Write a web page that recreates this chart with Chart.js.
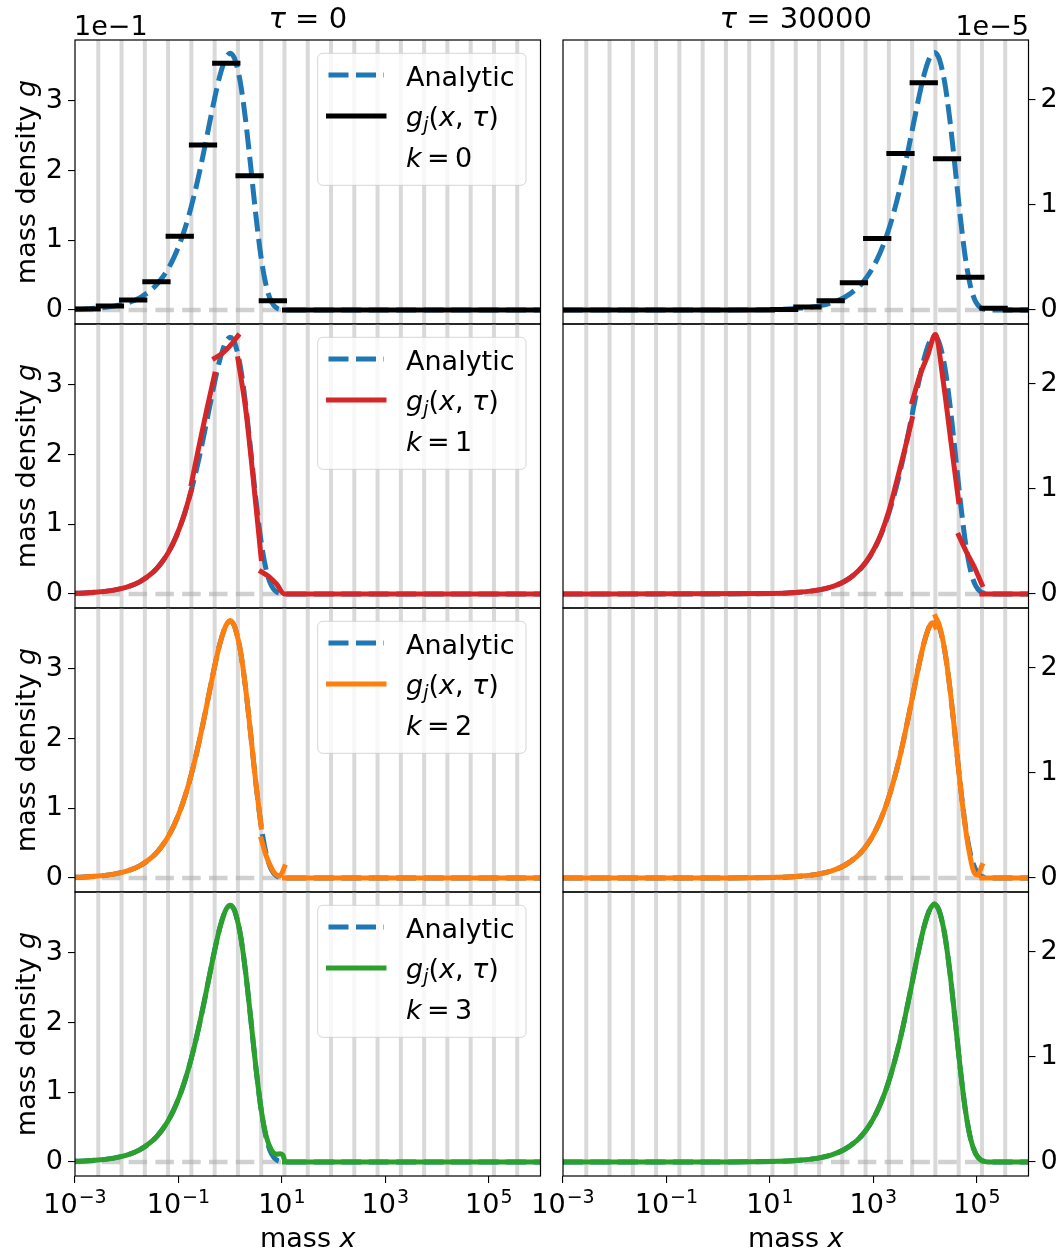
<!DOCTYPE html>
<html>
<head>
<meta charset="utf-8">
<script src="https://cdn.jsdelivr.net/npm/chart.js@4.4.1/dist/chart.umd.min.js"></script>
<style>
  body { margin: 0; background: #fff; width: 1059px; height: 1251px; overflow: hidden; position: relative; font-family: 'DejaVu Sans', sans-serif; }
  canvas { position: absolute; }
  .t { position: absolute; white-space: nowrap; color: #000; line-height: 1; z-index: 5; }
  .t sub { font-size: 0.7em; vertical-align: baseline; position: relative; top: 0.28em; line-height: 0; }
</style>
</head>
<body>
<script>
// mass grid: bin edges as log10(x)
const binEdgesLog = [-3, -2.55, -2.1, -1.65, -1.2, -0.75, -0.3, 0.15, 0.6, 1.05, 1.5, 1.95, 2.4, 2.85, 3.3, 3.75, 4.2, 4.65, 5.1, 5.55, 6];

const massTicks = [1e-3, 1e-1, 1e1, 1e3, 1e5];
const massTickExp = ['\u22123', '\u22121', '1', '3', '5'];   // shown as 10^exp
const leftTicks = [0, 1, 2, 3];   // x 1e-1
const rightTicks = [0, 1, 2];     // x 1e-5

// ---- tau = 0, g in units of 1e-1 ----
const anaLeftLog = [-3, -2.75, -2.5, -2.25, -2, -1.75, -1.5, -1.4, -1.3, -1.2, -1.1, -1, -0.9, -0.8, -0.7, -0.6, -0.5, -0.4, -0.3, -0.2, -0.1, -0.05, 0, 0.05, 0.1, 0.2, 0.3, 0.4, 0.5, 0.6, 0.7, 0.8, 0.9, 1, 1.1, 1.2, 6];
const anaLeftG = [0.010, 0.018, 0.032, 0.056, 0.099, 0.175, 0.306, 0.383, 0.477, 0.592, 0.734, 0.905, 1.110, 1.353, 1.634, 1.954, 2.305, 2.674, 3.036, 3.357, 3.589, 3.655, 3.679, 3.653, 3.574, 3.249, 2.713, 2.038, 1.339, 0.743, 0.334, 0.115, 0.028, 0.005, 0.000, 0.000, 0.000];

const k0Left = [0.015, 0.057, 0.143, 0.405, 1.057, 2.367, 3.538, 1.924, 0.132, 0, 0, 0, 0, 0, 0, 0, 0, 0, 0, 0];

const k1LeftLog = [-3, -2.75, -2.5, -2.25, -2, -1.75, -1.5, -1.35, -1.2, -1.05, -0.9, -0.75, -0.75, -0.75, -0.6, -0.45, -0.3, -0.3, -0.3, -0.15, 0, 0.15, 0.15, 0.15, 0.3, 0.45, 0.6, 0.6, 0.6, 0.75, 0.9, 1.05, 6];
const k1LeftG = [0.010, 0.018, 0.032, 0.056, 0.099, 0.175, 0.306, 0.427, 0.59, 0.815, 1.11, 1.49, null, 1.58, 2.13, 2.65, 3.15, null, 3.38, 3.45, 3.56, 3.70, null, 3.37, 2.65, 1.62, 0.51, null, 0.32, 0.25, 0.14, 0, 0];

const k2LeftLog = [-3, -2.75, -2.5, -2.25, -2, -1.75, -1.5, -1.4, -1.3, -1.2, -1.1, -1, -0.9, -0.8, -0.7, -0.6, -0.5, -0.4, -0.3, -0.2, -0.1, -0.05, 0, 0.05, 0.1, 0.2, 0.3, 0.4, 0.5, 0.6, 0.6, 0.6, 0.7, 0.8, 0.87, 0.95, 1, 1.05, 1.05, 1.05, 6];
const k2LeftG = [0.010, 0.018, 0.032, 0.056, 0.099, 0.175, 0.306, 0.383, 0.477, 0.592, 0.734, 0.905, 1.110, 1.353, 1.634, 1.954, 2.305, 2.674, 3.036, 3.357, 3.589, 3.66, 3.69, 3.66, 3.574, 3.249, 2.713, 2.038, 1.339, 0.73, null, 0.56, 0.31, 0.14, 0.06, 0.03, 0.07, 0.16, null, 0, 0];

const k3LeftLog = [-3, -2.75, -2.5, -2.25, -2, -1.75, -1.5, -1.4, -1.3, -1.2, -1.1, -1, -0.9, -0.8, -0.7, -0.6, -0.5, -0.4, -0.3, -0.2, -0.1, -0.05, 0, 0.05, 0.1, 0.2, 0.3, 0.4, 0.5, 0.6, 0.7, 0.8, 0.9, 0.97, 1.02, 1.05, 1.05, 1.05, 6];
const k3LeftG = [0.010, 0.018, 0.032, 0.056, 0.099, 0.175, 0.306, 0.383, 0.477, 0.592, 0.734, 0.905, 1.110, 1.353, 1.634, 1.954, 2.305, 2.674, 3.036, 3.357, 3.589, 3.655, 3.68, 3.653, 3.574, 3.249, 2.713, 2.038, 1.339, 0.75, 0.36, 0.17, 0.11, 0.12, 0.10, 0.03, null, 0, 0];

// ---- tau = 30000, g in units of 1e-5 ----
const anaRightLog = [-3, 0, 1.18, 1.43, 1.68, 1.93, 2.18, 2.43, 2.68, 2.78, 2.88, 2.98, 3.08, 3.18, 3.28, 3.38, 3.48, 3.58, 3.68, 3.78, 3.88, 3.98, 4.08, 4.13, 4.18, 4.23, 4.28, 4.38, 4.48, 4.58, 4.68, 4.78, 4.88, 4.98, 5.08, 5.18, 5.28, 6];
const anaRightG = [0, 0.0004, 0.007, 0.012, 0.021, 0.037, 0.066, 0.117, 0.204, 0.255, 0.318, 0.395, 0.489, 0.603, 0.740, 0.902, 1.089, 1.303, 1.537, 1.783, 2.024, 2.238, 2.392, 2.436, 2.452, 2.435, 2.382, 2.166, 1.809, 1.359, 0.893, 0.495, 0.222, 0.077, 0.019, 0.003, 0.000, 0.000];

const k0Right = [0, 0, 0, 0, 0, 0, 0, 0, 0, 0.006, 0.03, 0.089, 0.26, 0.68, 1.49, 2.165, 1.44, 0.313, 0.016, 0];

const k1RightLog = [-3, 1, 1.5, 2, 2.25, 2.4, 2.55, 2.7, 2.85, 3, 3.15, 3.3, 3.45, 3.6, 3.75, 3.75, 3.75, 3.9, 4.05, 4.2, 4.35, 4.5, 4.65, 4.65, 4.65, 4.8, 4.95, 5.1, 5.1, 5.1, 6];
const k1RightG = [0, 0.005, 0.014, 0.044, 0.078, 0.11, 0.154, 0.216, 0.30, 0.417, 0.573, 0.79, 1.07, 1.36, 1.67, null, 1.83, 2.08, 2.27, 2.47, 2.03, 1.45, 0.88, null, 0.56, 0.40, 0.26, 0.09, null, 0, 0];

const k2RightLog = [-3, 0, 1.18, 1.43, 1.68, 1.93, 2.18, 2.43, 2.68, 2.78, 2.88, 2.98, 3.08, 3.18, 3.28, 3.38, 3.48, 3.58, 3.68, 3.78, 3.88, 3.98, 4.08, 4.15, 4.2, 4.2, 4.2, 4.28, 4.38, 4.48, 4.58, 4.68, 4.78, 4.88, 4.95, 5.02, 5.1, 5.1, 5.1, 6];
const k2RightG = [0, 0.0004, 0.007, 0.012, 0.021, 0.037, 0.066, 0.117, 0.204, 0.255, 0.318, 0.395, 0.489, 0.603, 0.740, 0.902, 1.089, 1.303, 1.537, 1.783, 2.024, 2.238, 2.392, 2.43, 2.39, null, 2.49, 2.40, 2.17, 1.81, 1.36, 0.89, 0.48, 0.18, 0.05, 0.03, 0.12, null, 0, 0];

const k3RightLog = [-3, 0, 1.18, 1.43, 1.68, 1.93, 2.18, 2.43, 2.68, 2.78, 2.88, 2.98, 3.08, 3.18, 3.28, 3.38, 3.48, 3.58, 3.68, 3.78, 3.88, 3.98, 4.08, 4.13, 4.18, 4.23, 4.28, 4.38, 4.48, 4.58, 4.68, 4.78, 4.88, 4.98, 5.08, 5.18, 5.28, 6];
const k3RightG = [0, 0.0004, 0.007, 0.012, 0.021, 0.037, 0.066, 0.117, 0.204, 0.255, 0.318, 0.395, 0.489, 0.603, 0.740, 0.902, 1.089, 1.303, 1.537, 1.783, 2.024, 2.238, 2.392, 2.436, 2.46, 2.435, 2.382, 2.166, 1.809, 1.359, 0.893, 0.495, 0.222, 0.077, 0.02, 0.003, 0.000, 0.000];

const lineColors = ['#000000', '#d62728', '#ff7f0e', '#2ca02c'];

Chart.defaults.font.family = "'DejaVu Sans', sans-serif";

function pts(logs, vals) {
  return logs.map((L, i) => ({ x: Math.pow(10, L), y: vals[i] }));
}
// piecewise constant k = 0 solution, one segment per bin
function steps(vals) {
  const out = [];
  vals.forEach((v, i) => {
    const a = Math.pow(10, binEdgesLog[i]), b = Math.pow(10, binEdgesLog[i + 1]);
    out.push({ x: a, y: v }, { x: b, y: v }, { x: b, y: null });
  });
  return out;
}

const numLeft = [steps(k0Left), pts(k1LeftLog, k1LeftG), pts(k2LeftLog, k2LeftG), pts(k3LeftLog, k3LeftG)];
const numRight = [steps(k0Right), pts(k1RightLog, k1RightG), pts(k2RightLog, k2RightG), pts(k3RightLog, k3RightG)];

//----- plugins -----
const binLines = {
  id: 'binLines',
  beforeDatasetsDraw(chart) {
    const { ctx, chartArea: a, scales: { x } } = chart;
    ctx.save();
    ctx.beginPath(); ctx.rect(a.left, a.top, a.width, a.height); ctx.clip();
    ctx.strokeStyle = '#d9d9d9'; ctx.lineWidth = 4;
    binEdgesLog.slice(1, -1).forEach(L => {
      const px = x.getPixelForValue(Math.pow(10, L));
      ctx.beginPath(); ctx.moveTo(px, a.top); ctx.lineTo(px, a.bottom); ctx.stroke();
    });
    ctx.restore();
  }
};

const frame = {
  id: 'frame',
  afterDraw(chart) {
    const { ctx, chartArea: a } = chart;
    ctx.save();
    ctx.strokeStyle = '#000'; ctx.lineWidth = 1.2;
    ctx.strokeRect(a.left, a.top, a.width, a.height);
    ctx.restore();
  }
};

// 10^n labels under the bottom row, with a real superscript
const powerLabels = {
  id: 'powerLabels',
  afterDraw(chart, args, opts) {
    if (!opts || !opts.show) return;
    const { ctx, chartArea: a, scales: { x } } = chart;
    ctx.save();
    ctx.fillStyle = '#000'; ctx.textBaseline = 'alphabetic'; ctx.textAlign = 'left';
    massTicks.forEach((v, i) => {
      ctx.font = "27px 'DejaVu Sans'";
      const w1 = ctx.measureText('10').width;
      ctx.font = "19px 'DejaVu Sans'";
      const w2 = ctx.measureText(massTickExp[i]).width;
      const x0 = x.getPixelForValue(v) - (w1 + w2 + 1) / 2;
      ctx.font = "27px 'DejaVu Sans'";
      ctx.fillText('10', x0, a.bottom + 37);
      ctx.font = "19px 'DejaVu Sans'";
      ctx.fillText(massTickExp[i], x0 + w1 + 1, a.bottom + 27);
    });
    ctx.restore();
  }
};

const legendBox = {
  id: 'legendBox',
  afterDatasetsDraw(chart, args, opts) {
    if (!opts || !opts.color) return;
    const { ctx, chartArea: a } = chart;
    const x0 = a.left + 242.7, y0 = a.top + 13.3, w = 208.3, h = 132, r = 5;
    ctx.save();
    ctx.beginPath();
    ctx.moveTo(x0 + r, y0);
    ctx.arcTo(x0 + w, y0, x0 + w, y0 + h, r);
    ctx.arcTo(x0 + w, y0 + h, x0, y0 + h, r);
    ctx.arcTo(x0, y0 + h, x0, y0, r);
    ctx.arcTo(x0, y0, x0 + w, y0, r);
    ctx.closePath();
    ctx.fillStyle = 'rgba(255,255,255,0.8)'; ctx.fill();
    ctx.strokeStyle = 'rgba(204,204,204,0.8)'; ctx.lineWidth = 1; ctx.stroke();

    const hx0 = a.left + 253.5, hx1 = a.left + 309;
    ctx.lineWidth = 5;
    ctx.strokeStyle = '#1f77b4'; ctx.setLineDash([20, 7.5]); ctx.lineCap = 'butt';
    ctx.beginPath(); ctx.moveTo(hx0, y0 + 21.7); ctx.lineTo(hx1, y0 + 21.7); ctx.stroke();
    ctx.setLineDash([]); ctx.lineCap = 'square'; ctx.strokeStyle = opts.color;
    ctx.beginPath(); ctx.moveTo(hx0, y0 + 62.7); ctx.lineTo(hx1, y0 + 62.7); ctx.stroke();
    ctx.restore();
  }
};

//----- panels -----
function rowTop(r) { return 40 + 284 * r; }

function makePanel(row, isLeft) {
  const bottom = row === 3;
  const cv = document.createElement('canvas');
  const w = isLeft ? 545 : 539;
  const h = 30 + 284 + (bottom ? 52 : 30);
  cv.width = w; cv.height = h;
  cv.style.left = (isLeft ? 0 : 520) + 'px';
  cv.style.top = (rowTop(row) - 30) + 'px';
  document.body.appendChild(cv);

  const color = lineColors[row];
  const numeric = isLeft ? numLeft[row] : numRight[row];
  const analytic = isLeft ? pts(anaLeftLog, anaLeftG) : pts(anaRightLog, anaRightG);

  new Chart(cv.getContext('2d'), {
    type: 'line',
    data: {
      datasets: [
        { // g_j(x, tau), drawn on top
          data: numeric, borderColor: color, borderWidth: 5, clip: 0,
          borderCapStyle: 'square', borderJoinStyle: 'round',
          cubicInterpolationMode: row === 0 ? 'default' : 'monotone', tension: 0
        },
        { // analytic
          data: analytic, borderColor: '#1f77b4', borderWidth: 5, clip: 0,
          borderDash: [20, 7.5], borderCapStyle: 'butt', cubicInterpolationMode: 'monotone'
        },
        { // zero reference
          data: [{ x: 1e-3, y: 0 }, { x: 1e6, y: 0 }], borderColor: 'rgba(170,170,170,0.55)',
          borderWidth: 4.5, borderDash: [18.5, 8.3], borderCapStyle: 'butt', clip: 0
        }
      ]
    },
    options: {
      responsive: false, animation: false, devicePixelRatio: 1,
      layout: { padding: { top: 30, bottom: bottom ? 0 : 30, left: isLeft ? 0 : 43, right: isLeft ? 4.5 : 0 } },
      elements: { point: { radius: 0 } },
      plugins: {
        legend: { display: false }, tooltip: { enabled: false },
        legendBox: isLeft ? { color: color } : {},
        powerLabels: { show: bottom }
      },
      scales: {
        x: {
          type: 'logarithmic', min: 1e-3, max: 1e6, bounds: 'data',
          display: bottom,
          afterFit: s => { s.height = bottom ? 52 : 0; },
          afterBuildTicks: s => { s.ticks = massTicks.map(v => ({ value: v })); },
          grid: { drawOnChartArea: false, drawTicks: true, tickLength: 7, color: '#000', lineWidth: 1.1 },
          border: { display: false },
          ticks: { autoSkip: false, maxRotation: 0, callback: () => '' }
        },
        y: {
          position: isLeft ? 'left' : 'right',
          min: isLeft ? -0.2 : -0.133, max: isLeft ? 3.87 : 2.571, bounds: 'data',
          afterFit: s => { s.width = isLeft ? 75 : 30.5; },
          afterBuildTicks: s => { s.ticks = (isLeft ? leftTicks : rightTicks).map(v => ({ value: v })); },
          grid: { drawOnChartArea: false, drawTicks: true, tickLength: 7, color: '#000', lineWidth: 1.1 },
          border: { display: false },
          ticks: { color: '#000', font: { size: 27 }, padding: 5, callback: v => String(v) }
        }
      }
    },
    plugins: [binLines, legendBox, frame, powerLabels]
  });
}

for (let r = 0; r < 4; r++) { makePanel(r, true); makePanel(r, false); }

//----- text -----
function addText(html, left, top, size, align, rotate) {
  const d = document.createElement('div');
  d.className = 't';
  d.innerHTML = html;
  d.style.left = left + 'px'; d.style.top = top + 'px'; d.style.fontSize = size + 'px';
  if (rotate) d.style.transform = 'translate(-50%,-50%) rotate(-90deg)';
  else if (align === 'center') d.style.transform = 'translateX(-50%)';
  else if (align === 'right') d.style.transform = 'translateX(-100%)';
  document.body.appendChild(d);
}

addText('<i>\u03C4</i> = 0', 307.75, 3.8, 29, 'center');
addText('<i>\u03C4</i> = 30000', 795.75, 3.8, 29, 'center');
addText('1e\u22121', 74, 11.5, 27, 'left');
addText('1e\u22125', 1029, 11.5, 27, 'right');

for (let r = 0; r < 4; r++) {
  const T = rowTop(r);
  addText('mass density <i>g</i>', 24.7, T + 142, 27, 'center', true);
  addText('Analytic', 406, T + 22.5, 27, 'left');
  addText('<i>g</i><sub><i>j</i></sub>(<i>x</i>, <i>\u03C4</i>)', 406, T + 63.2, 27, 'left');
  addText('<i>k</i>&#8201;=&#8201;' + r, 406, T + 104.2, 27, 'left');
}
addText('mass <i>x</i>', 307.75, 1224, 27, 'center');
addText('mass <i>x</i>', 795.75, 1224, 27, 'center');
</script>
</body>
</html>
